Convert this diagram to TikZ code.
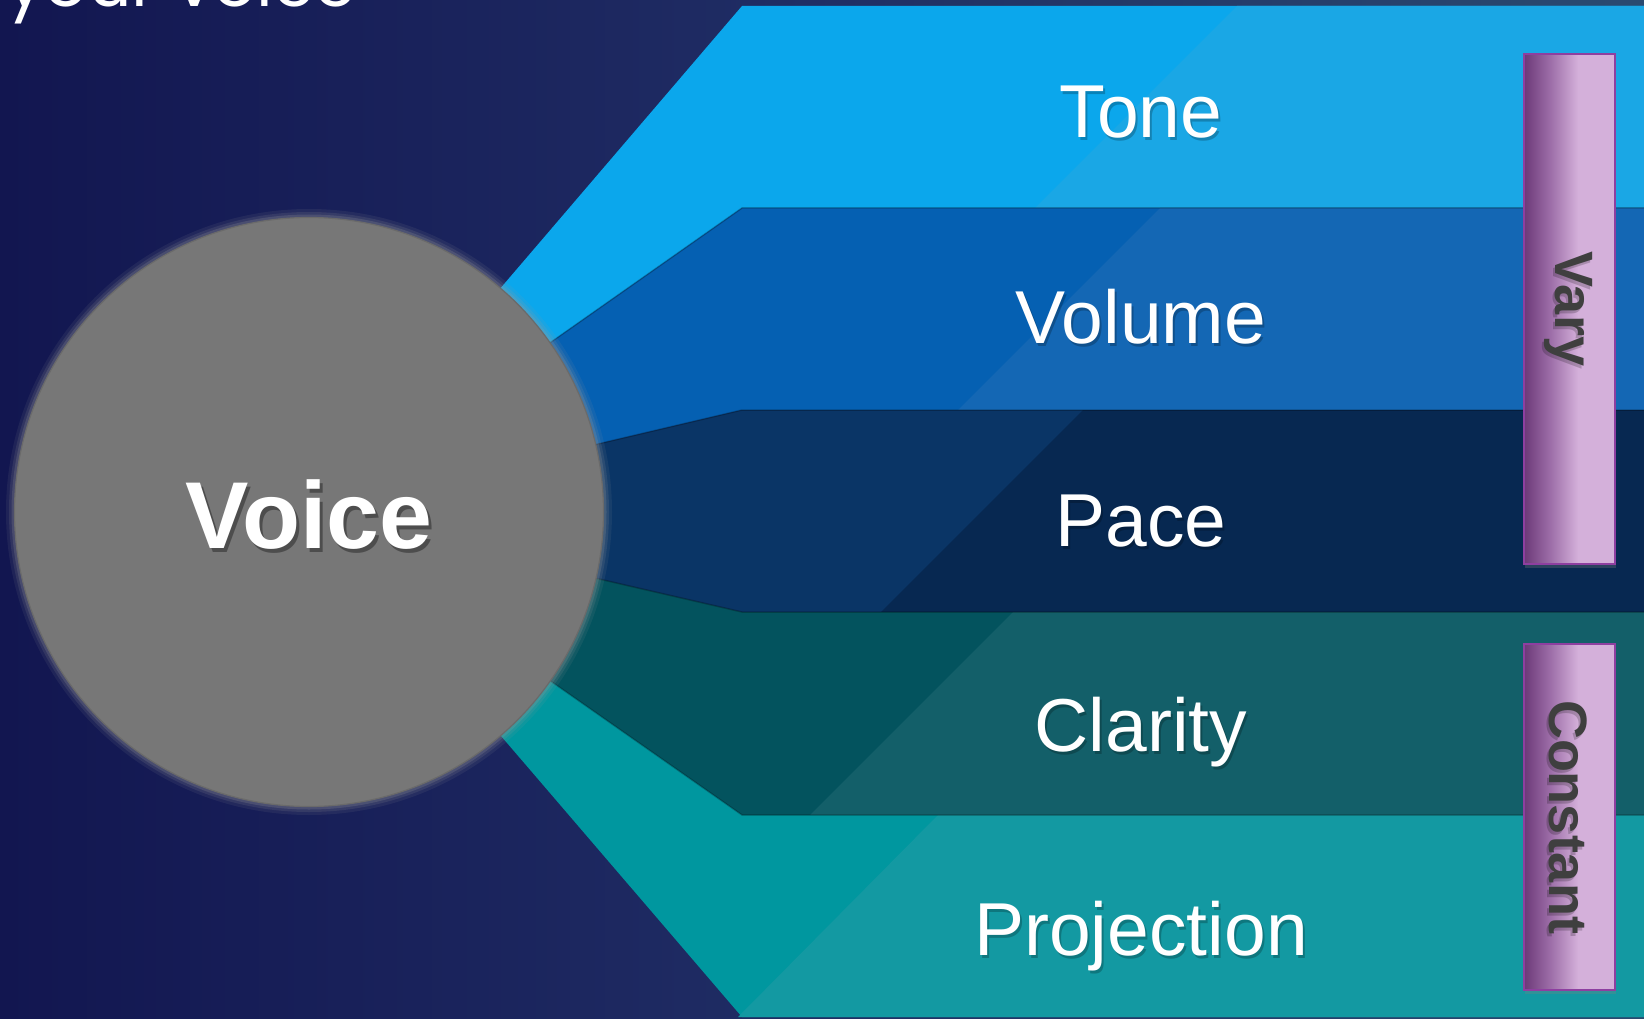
\documentclass[tikz,border=0pt]{standalone}
\usepackage{fontspec}
\setmainfont{Liberation Sans}
\newfontfamily\titlefont{Poppins}
\usetikzlibrary{shadows}
\definecolor{bgA}{HTML}{121650}
\definecolor{bgB}{HTML}{1E2A62}
\definecolor{bgC}{HTML}{2A4A70}
\definecolor{toneL}{HTML}{0BA7EC}
\definecolor{toneR}{HTML}{1AA7E5}
\definecolor{volL}{HTML}{0560B2}
\definecolor{volR}{HTML}{1467B4}
\definecolor{paceL}{HTML}{0A3566}
\definecolor{paceR}{HTML}{072851}
\definecolor{clarL}{HTML}{03535E}
\definecolor{clarR}{HTML}{135F69}
\definecolor{projL}{HTML}{00979F}
\definecolor{projR}{HTML}{1399A2}
\definecolor{coreFill}{HTML}{777777}
\definecolor{coreEdge}{HTML}{6A6A6A}
\definecolor{glow}{HTML}{9A9A9A}
\definecolor{barDark}{HTML}{6B3877}
\definecolor{barMid}{HTML}{9E6FA9}
\definecolor{barLight}{HTML}{D4B0DA}
\definecolor{barEdge}{HTML}{8E3FA0}
\definecolor{barText}{HTML}{3F3F3F}
\pgfdeclarehorizontalshading{bgshade}{100bp}{color(0bp)=(bgA); color(25bp)=(bgA); color(46bp)=(bgB); color(75bp)=(bgC); color(100bp)=(bgC)}
\pgfdeclarehorizontalshading{barshade}{100bp}{color(0bp)=(barDark); color(25bp)=(barDark); color(40bp)=(barMid); color(55bp)=(barLight); color(100bp)=(barLight)}
\tikzset{
  lbl/.style={anchor=base, inner sep=0pt, text=white, font=\fontsize{75}{90}\selectfont},
  lblsh/.style={lbl, text=black, opacity=0.22},
  voicetxt/.style={anchor=base, inner sep=0pt, text=white, font=\bfseries\fontsize{95}{110}\selectfont},
  voicesh/.style={voicetxt, text=black, opacity=0.35},
  barbox/.style={draw=barEdge, line width=2pt, shading=barshade, inner sep=0pt, minimum width=91pt,
     drop shadow={shadow xshift=1pt, shadow yshift=-4pt, opacity=0.3}},
  bartxt/.style={inner sep=0pt, text=barText, font=\bfseries\fontsize{54}{64}\selectfont, rotate=-90},
  bartxtsh/.style={bartxt, text=black, opacity=0.2},
  edgeline/.style={draw=black, opacity=0.25, line width=1.5pt}
}
\begin{document}
\begin{tikzpicture}[x=1pt,y=-1pt]
\useasboundingbox (0,0) rectangle (1644,1019);
\shade[shading=bgshade] (0,0) rectangle (1644,1019);
\coordinate (C) at (309,512);
% bands
\fill[toneL] (C) -- (742,6) -- (1650,6) -- (1650,208) -- (742,208) -- cycle;
\fill[toneR] (1035,208) -- (1237,6) -- (1650,6) -- (1650,208) -- cycle;
\fill[volL] (C) -- (742,208) -- (1650,208) -- (1650,410) -- (742,410) -- cycle;
\fill[volR] (958,410) -- (1160,208) -- (1650,208) -- (1650,410) -- cycle;
\fill[paceL] (C) -- (742,410) -- (1650,410) -- (1650,612) -- (742,612) -- cycle;
\fill[paceR] (881,612) -- (1083,410) -- (1650,410) -- (1650,612) -- cycle;
\fill[clarL] (C) -- (742,612) -- (1650,612) -- (1650,815) -- (742,815) -- cycle;
\fill[clarR] (810,815) -- (1013,612) -- (1650,612) -- (1650,815) -- cycle;
\fill[projL] (C) -- (742,815) -- (1650,815) -- (1650,1017) -- (742,1017) -- cycle;
\fill[projR] (738,1017) -- (938,815) -- (1650,815) -- (1650,1017) -- cycle;
% boundaries
\draw[edgeline] (C) -- (742,208) -- (1650,208);
\draw[edgeline] (C) -- (742,410) -- (1650,410);
\draw[edgeline] (C) -- (742,612) -- (1650,612);
\draw[edgeline] (C) -- (742,815) -- (1650,815);
% core circle with soft glow
\fill[glow, opacity=0.10] (C) circle[radius=303];
\fill[glow, opacity=0.15] (C) circle[radius=300];
\fill[glow, opacity=0.22] (C) circle[radius=297.5];
\node[circle, fill=coreFill, draw=coreEdge, line width=1.2pt, minimum size=589pt, inner sep=0pt] (core) at (C) {};
\node[voicesh] (voice-sh) at (312,552) {Voice};
\node[voicetxt] (voice) at (309,548) {Voice};
% labels
\node[lblsh] (tone-sh) at (1143,141) {Tone};
\node[lbl] (tone) at (1141,138) {Tone};
\node[lblsh] (volume-sh) at (1143,346) {Volume};
\node[lbl] (volume) at (1141,343) {Volume};
\node[lblsh] (pace-sh) at (1143,549) {Pace};
\node[lbl] (pace) at (1141,546) {Pace};
\node[lblsh] (clarity-sh) at (1143,754) {Clarity};
\node[lbl] (clarity) at (1141,751) {Clarity};
\node[lblsh] (projection-sh) at (1143,958) {Projection};
\node[lbl] (projection) at (1141,955) {Projection};
% side bars
\node[barbox, minimum height=510pt] (varybar) at (1569,309) {};
\node[bartxtsh] (vary-sh) at (1566,312) {Vary};
\node[bartxt] (vary) at (1568,309) {Vary};
\node[barbox, minimum height=346pt] (constbar) at (1569,817) {};
\node[bartxtsh] (constant-sh) at (1566,820) {Constant};
\node[bartxt] (constant) at (1568,817) {Constant};
% title remnant
\node[anchor=base west, inner sep=0pt, text=white, font=\titlefont\fontsize{68}{80}\selectfont] (title) at (6,7) {your voice};
\end{tikzpicture}
\end{document}
